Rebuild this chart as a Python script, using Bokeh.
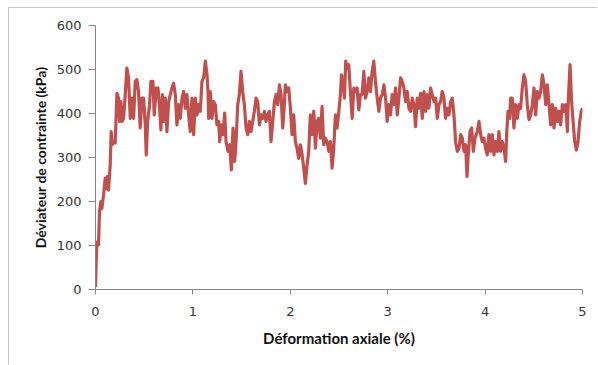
from bokeh.plotting import figure
from bokeh.models import Range1d, FixedTicker, ColumnDataSource
from bokeh.embed import file_html
from bokeh.resources import INLINE

# ---- data (axial strain %, deviator stress kPa) ----
strain_a = [0.000,0.007,0.014,0.031,0.041,0.055,0.065,0.083,0.100,0.110,0.124,0.134,0.151,0.161,0.172,0.185,
            0.202,0.220,0.237,0.247,0.261,0.271,0.288,0.305,0.322,0.339,0.357,0.374,0.391,0.408,0.425,0.442,
            0.459,0.476,0.494,0.511,0.521,0.535,0.555,0.569,0.590,0.603,0.624,0.641,0.658,0.672,0.686,0.699,
            0.716,0.733,0.751,0.768,0.785,0.802,0.819,0.836,0.853,0.870,0.888,0.905,0.922,0.939,0.956,0.973]
stress_a = [6,63,108,101,177,200,184,215,253,230,257,226,283,359,329,336,
            333,446,435,382,427,382,389,443,503,481,389,435,389,473,477,450,
            367,435,435,374,306,382,420,473,473,397,458,458,412,363,443,382,
            435,359,427,443,458,469,443,374,420,389,435,450,412,443,397,359]

strain_b = [0.990,1.008,1.025,1.042,1.059,1.076,1.093,1.110,1.128,1.145,1.155,1.162,1.179,1.196,1.213,1.230,
            1.247,1.265,1.275,1.292,1.309,1.326,1.340,1.361,1.378,1.395,1.412,1.429,1.443,1.460,1.477,1.494,
            1.511,1.528,1.546,1.563,1.580,1.597,1.614,1.631,1.648,1.665,1.683,1.700,1.717,1.734,1.751,1.768,
            1.785,1.802,1.820,1.837,1.854,1.871,1.888,1.905,1.922,1.939]
stress_b = [435,352,435,397,420,405,473,481,519,488,450,389,450,389,427,420,
            374,382,336,374,352,401,336,314,329,272,367,291,336,420,443,496,
            450,420,367,352,382,359,382,405,435,427,374,397,389,405,382,397,
            405,336,382,427,443,420,465,443,367,420]

strain_c = [1.949,1.967,1.984,2.001,2.018,2.035,2.052,2.069,2.086,2.104,2.121,2.138,2.155,2.172,2.189,2.206,
            2.223,2.241,2.258,2.275,2.292,2.309,2.326,2.343,2.360,2.378,2.395,2.412,2.429,2.446,2.463,2.480,
            2.498,2.515,2.525,2.542,2.556,2.569,2.583,2.600,2.617,2.635,2.652,2.669,2.686,2.703,2.720,2.737,
            2.755,2.772,2.789,2.806,2.823,2.840,2.857,2.874,2.892,2.909,2.926]
stress_c = [465,450,458,412,352,397,336,321,298,329,306,276,241,283,314,397,
            352,405,321,382,389,344,416,329,344,336,314,336,276,321,397,367,
            405,443,488,473,435,519,503,511,450,389,458,450,458,408,443,443,
            496,435,450,481,450,496,519,473,435,405,435]

strain_d = [2.944,2.961,2.978,2.995,3.012,3.029,3.046,3.063,3.081,3.098,3.115,3.132,3.149,3.166,3.183,3.200,
            3.218,3.235,3.252,3.269,3.286,3.303,3.320,3.338,3.355,3.372,3.389,3.406,3.423,3.440,3.457,3.475,
            3.492,3.509,3.526,3.543,3.560,3.577,3.594,3.612,3.629,3.646,3.663,3.680,3.697,3.714,3.732,3.749,
            3.766,3.783,3.800,3.814,3.827,3.845,3.862,3.879,3.896]
stress_d = [443,465,435,382,420,397,443,420,458,397,435,481,473,458,427,450,
            412,405,435,420,370,435,412,446,389,450,405,443,412,458,443,427,
            435,389,420,427,450,435,389,412,397,427,435,397,336,314,321,352,
            344,314,329,257,306,359,367,314,344]

strain_e = [3.920,3.937,3.954,3.971,3.988,4.005,4.022,4.039,4.057,4.074,4.091,4.108,4.125,4.142,4.159,4.176,
            4.194,4.211,4.221,4.235,4.252,4.262,4.279,4.296,4.313,4.331,4.348,4.365,4.382,4.399,4.416,4.433,
            4.451,4.468,4.485,4.502,4.519,4.536,4.553,4.570,4.588,4.605,4.622,4.639,4.656,4.673,4.690,4.708,
            4.725,4.742,4.759,4.776,4.793,4.810,4.827,4.845,4.855,4.872,4.886,4.903,4.920,4.937,4.954,4.971,
            4.988,5.000]
stress_e = [359,382,352,336,344,321,306,352,314,352,306,336,314,359,314,336,
            321,291,352,405,389,435,435,367,420,389,420,412,458,488,473,420,
            386,397,420,458,397,450,435,450,488,465,420,465,420,374,420,367,
            412,382,405,374,420,405,420,359,435,511,435,382,336,317,336,382,
            405,412]

x_ticks = [0, 1, 2, 3, 4, 5]
y_ticks = [0, 100, 200, 300, 400, 500, 600]
x_title = "Déformation axiale (%)"
y_title = "Déviateur de contrainte (kPa)"

strain = strain_a + strain_b + strain_c + strain_d + strain_e
stress = stress_a + stress_b + stress_c + stress_d + stress_e
src = ColumnDataSource(data=dict(x=strain, y=stress))

p = figure(width=589, height=357, output_backend="svg", toolbar_location=None,
           x_range=Range1d(0, 5), y_range=Range1d(0, 600),
           min_border_left=86, min_border_right=16, min_border_top=17, min_border_bottom=76)
p.styles = {"margin-left": "8px", "margin-top": "7px",
            "border-top": "1px solid #c6c6c6", "border-left": "1px solid #c6c6c6"}
p.outline_line_color = None
p.grid.visible = False
p.background_fill_color = "white"
p.border_fill_color = "white"

p.line("x", "y", source=src, line_color="#C0504D", line_width=3.2, line_join="round")

for ax in (p.xaxis[0], p.yaxis[0]):
    ax.axis_line_color = "#868686"
    ax.major_tick_line_color = "#868686"
    ax.minor_tick_line_color = None
    ax.major_tick_in = 0
    ax.major_label_text_font = "DejaVu Sans"
    ax.major_label_text_font_size = "13px"
    ax.major_label_text_color = "#333333"
    ax.axis_label_text_font = "Lato"
    ax.axis_label_text_font_style = "bold"
    ax.axis_label_text_color = "#111111"

p.xaxis.axis_label_text_font_size = "15px"
p.yaxis.axis_label_text_font_size = "14px"
p.xaxis.ticker = FixedTicker(ticks=x_ticks)
p.yaxis.ticker = FixedTicker(ticks=y_ticks)
p.xaxis.major_tick_out = 5
p.yaxis.major_tick_out = 7
p.xaxis.major_label_standoff = 12
p.yaxis.major_label_standoff = 7
p.xaxis.axis_label = x_title
p.yaxis.axis_label = y_title
p.xaxis.axis_label_standoff = 10
p.yaxis.axis_label_standoff = 5

open("out.html", "w").write(file_html(p, INLINE))
